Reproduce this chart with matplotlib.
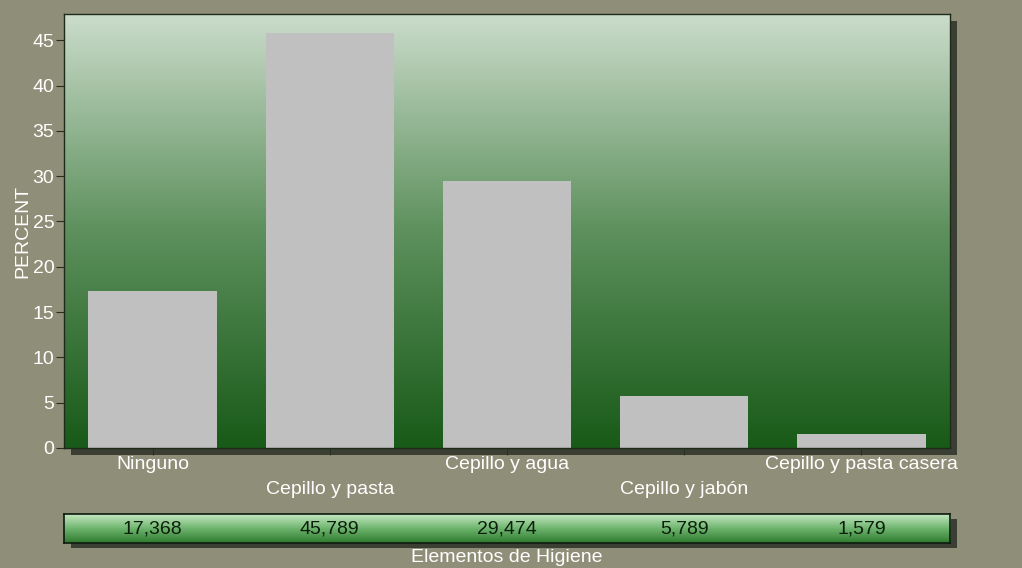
import numpy as np
import matplotlib
matplotlib.use("Agg")
from matplotlib import pyplot as plt
from matplotlib.patches import Rectangle
from matplotlib.colors import LinearSegmentedColormap

plt.rcParams['font.family'] = ['Liberation Sans', 'DejaVu Sans']

categories = ["Ninguno", "Cepillo y pasta", "Cepillo y agua", "Cepillo y jabón", "Cepillo y pasta casera"]
percent = [17.368, 45.789, 29.474, 5.789, 1.579]
yticks = [0, 5, 10, 15, 20, 25, 30, 35, 40, 45]

W, H = 1022, 568
bg = "#8f8e78"
fs = 14
fig = plt.figure(figsize=(W / 100, H / 100), dpi=100, facecolor=bg)

# plot area in pixels
left, right, top, bottom = 64, 950, 14, 448
ax = fig.add_axes([left / W, 1 - bottom / H, (right - left) / W, (bottom - top) / H])
ax.set_zorder(2)

# drop shadow behind plot area
shadow = 7
fig.patches.append(Rectangle(((left + shadow) / W, 1 - (bottom + shadow) / H),
                             (right - left) / W, (bottom - top) / H,
                             transform=fig.transFigure, facecolor="#3b3f33",
                             edgecolor="none", zorder=-1))

# green vertical gradient background
plot_cmap = LinearSegmentedColormap.from_list("plotbg", ["#185a18", "#5d905d", "#cbdccb"])
grad = np.linspace(0, 1, 256).reshape(-1, 1)
ymax = 47.9
x = np.arange(len(categories))
ax.imshow(grad, extent=[-0.5, len(categories) - 0.5, 0, ymax], origin="lower",
          aspect="auto", cmap=plot_cmap, zorder=0)

ax.bar(x, percent, width=0.725, color="#c0c0c0", zorder=2)
ax.set_xlim(-0.5, len(categories) - 0.5)
ax.set_ylim(0, ymax)

for s in ax.spines.values():
    s.set_color("#1e2a1a")
    s.set_linewidth(1)

ax.set_yticks(yticks)
ax.tick_params(axis="y", colors="#2a3020", labelcolor="white", labelsize=fs,
               length=6, pad=1)

# staggered category labels: even ones as major ticks, odd ones as minor ticks
ax.set_xticks(x[::2])
ax.set_xticklabels(categories[::2])
ax.set_xticks(x[1::2], minor=True)
ax.set_xticklabels(categories[1::2], minor=True)
ax.tick_params(axis="x", which="both", colors="#2a3020", labelcolor="white",
               labelsize=fs, length=5, direction="out")
ax.tick_params(axis="x", which="major", pad=0.5)
ax.tick_params(axis="x", which="minor", pad=19)

ax.set_ylabel("PERCENT", color="white", fontsize=fs, labelpad=1)

# value strip under the chart
t_top, t_bottom = 514, 543
fig.patches.append(Rectangle(((left + shadow) / W, 1 - (t_bottom + 5) / H),
                             (right - left) / W, (t_bottom - t_top) / H,
                             transform=fig.transFigure, facecolor="#3b3f33",
                             edgecolor="none", zorder=-1))
tab = fig.add_axes([left / W, 1 - t_bottom / H, (right - left) / W, (t_bottom - t_top) / H])
tab.set_zorder(2)
tab_cmap = LinearSegmentedColormap.from_list("tabbg", ["#2f7a2f", "#6db46d", "#c6e8c2"])
tab.imshow(grad, extent=[-0.5, len(categories) - 0.5, 0, 1], origin="lower",
           aspect="auto", cmap=tab_cmap, zorder=0)
tab.set_xlim(-0.5, len(categories) - 0.5)
tab.set_ylim(0, 1)
tab.set_xticks([])
tab.set_yticks([])
for s in tab.spines.values():
    s.set_color("#0e1a0e")
    s.set_linewidth(1.2)
for i, v in enumerate(percent):
    tab.text(i, 0.5, f"{v:.3f}".replace(".", ","), ha="center", va="center",
             fontsize=fs, color="#0c1f0c")

fig.text((left + right) / 2 / W, 1 - 557 / H, "Elementos de Higiene", ha="center",
         va="center", color="white", fontsize=fs)

fig.savefig("out.png", dpi=100, facecolor=bg)
